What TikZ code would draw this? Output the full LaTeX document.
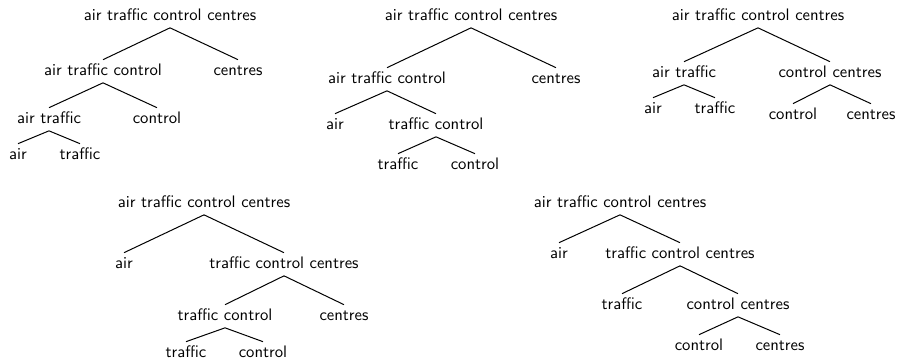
\documentclass[tikz,border=0pt]{standalone}
\usepackage{tikz}
\tikzset{x=0.6pt, y=-0.6pt}
\tikzset{word/.style = {font=\sffamily, inner sep=2pt, text height=7pt, text depth=2.5pt, anchor=base}}
\tikzset{branch/.style = {draw, semithick}}

\begin{document}
\begin{tikzpicture}
			\useasboundingbox (0,0) rectangle (899,360);
			% Tree 1: ((air traffic) control) centres
			\node [word] (A-root) at (170,20) {air traffic control centres};
			\node [word] (A-atc) at (103,75) {air traffic control};
			\node [word] (A-cen) at (238,75) {centres};
			\node [word] (A-at) at (49,123) {air traffic};
			\node [word] (A-con) at (157,123) {control};
			\node [word] (A-air) at (18,159) {air};
			\node [word] (A-tra) at (80,159) {traffic};
			\draw [branch] (A-atc.north) -- (A-root.south) -- (A-cen.north);
			\draw [branch] (A-at.north) -- (A-atc.south) -- (A-con.north);
			\draw [branch] (A-air.north) -- (A-at.south) -- (A-tra.north);

			% Tree 2: (air (traffic control)) centres
			\node [word] (B-root) at (471,20) {air traffic control centres};
			\node [word] (B-atc) at (387,83) {air traffic control};
			\node [word] (B-cen) at (556,83) {centres};
			\node [word] (B-air) at (335,129) {air};
			\node [word] (B-tc) at (436,129) {traffic control};
			\node [word] (B-tra) at (398,169) {traffic};
			\node [word] (B-con) at (475,169) {control};
			\draw [branch] (B-atc.north) -- (B-root.south) -- (B-cen.north);
			\draw [branch] (B-air.north) -- (B-atc.south) -- (B-tc.north);
			\draw [branch] (B-tra.north) -- (B-tc.south) -- (B-con.north);

			% Tree 3: (air traffic) (control centres)
			\node [word] (C-root) at (758,20) {air traffic control centres};
			\node [word] (C-at) at (684,77) {air traffic};
			\node [word] (C-cc) at (830,77) {control centres};
			\node [word] (C-air) at (653,113) {air};
			\node [word] (C-tra) at (715,113) {traffic};
			\node [word] (C-con) at (793,119) {control};
			\node [word] (C-cen) at (871,119) {centres};
			\draw [branch] (C-at.north) -- (C-root.south) -- (C-cc.north);
			\draw [branch] (C-air.north) -- (C-at.south) -- (C-tra.north);
			\draw [branch] (C-con.north) -- (C-cc.south) -- (C-cen.north);

			% Tree 4: air ((traffic control) centres)
			\node [word] (D-root) at (204,207) {air traffic control centres};
			\node [word] (D-air) at (124,268) {air};
			\node [word] (D-tcc) at (284,268) {traffic control centres};
			\node [word] (D-tc) at (225,320) {traffic control};
			\node [word] (D-cen) at (344,320) {centres};
			\node [word] (D-tra) at (186,357) {traffic};
			\node [word] (D-con) at (263,357) {control};
			\draw [branch] (D-air.north) -- (D-root.south) -- (D-tcc.north);
			\draw [branch] (D-tc.north) -- (D-tcc.south) -- (D-cen.north);
			\draw [branch] (D-tra.north) -- (D-tc.south) -- (D-con.north);

			% Tree 5: air (traffic (control centres))
			\node [word] (E-root) at (620,207) {air traffic control centres};
			\node [word] (E-air) at (559,258) {air};
			\node [word] (E-tcc) at (680,258) {traffic control centres};
			\node [word] (E-tra) at (622,309) {traffic};
			\node [word] (E-cc) at (738,309) {control centres};
			\node [word] (E-con) at (699,350) {control};
			\node [word] (E-cen) at (780,350) {centres};
			\draw [branch] (E-air.north) -- (E-root.south) -- (E-tcc.north);
			\draw [branch] (E-tra.north) -- (E-tcc.south) -- (E-cc.north);
			\draw [branch] (E-con.north) -- (E-cc.south) -- (E-cen.north);
		\end{tikzpicture}
\end{document}
